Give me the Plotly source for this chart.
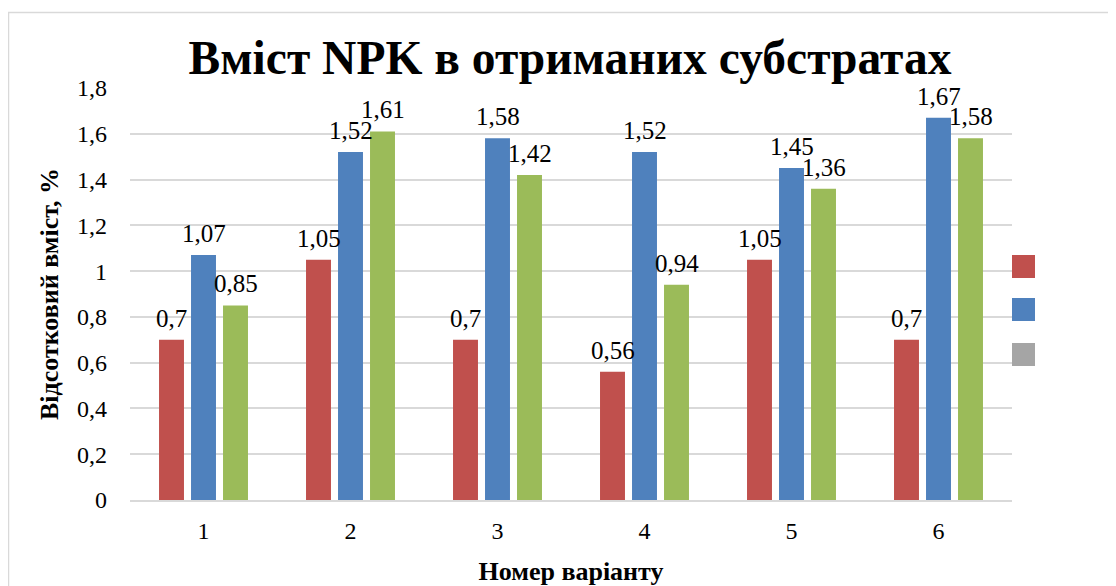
import plotly.graph_objects as go

categories = ["1", "2", "3", "4", "5", "6"]
series_names = ["N", "P", "K"]
red_vals = [0.7, 1.05, 0.7, 0.56, 1.05, 0.7]
blue_vals = [1.07, 1.52, 1.58, 1.52, 1.45, 1.67]
green_vals = [0.85, 1.61, 1.42, 0.94, 1.36, 1.58]
bar_colors = ["#C0504D", "#4F81BD", "#9BBB59"]
legend_colors = ["#C0504D", "#4F81BD", "#A5A5A5"]
y_ticks = [0, 0.2, 0.4, 0.6, 0.8, 1.0, 1.2, 1.4, 1.6, 1.8]

FONT = "Liberation Serif"
OFF = 8  # page body margin offset
W, H = 1116 - OFF, 586 - OFF
ML, MT = 130 - OFF, 88 - OFF
PR, PB = 1012 - OFF, 500 - OFF
MR, MB = W - PR, H - PB
PW, PH = PR - ML, PB - MT

def fmt(v):
    return ("%g" % v).replace(".", ",")

fig = go.Figure()
for name, vals, col in zip(series_names, [red_vals, blue_vals, green_vals], bar_colors):
    fig.add_trace(go.Bar(x=categories, y=vals, name=name, marker_color=col,
                         marker_line_width=0, showlegend=False))

annotations = []
for i, vals in enumerate([red_vals, blue_vals, green_vals]):
    for j, v in enumerate(vals):
        annotations.append(dict(
            x=j, y=v, xref="x", yref="y", text=fmt(v), showarrow=False,
            xanchor="center", yanchor="bottom", yshift=6,
            xshift=(i - 1) * 32,
            font=dict(family=FONT, size=25, color="#000000")))

def px_x(p):
    return (p - OFF - ML) / PW

def px_y(p):
    return (PB - (p - OFF)) / PH

shapes = [dict(type="rect", xref="paper", yref="paper",
               x0=px_x(8.5), x1=px_x(1140), y0=px_y(610), y1=px_y(12.5),
               line=dict(color="#D9D9D9", width=1.5), fillcolor="rgba(0,0,0,0)",
               layer="below")]
leg_tops = [255, 298, 343]
for top, col in zip(leg_tops, legend_colors):
    shapes.append(dict(type="rect", xref="paper", yref="paper",
                       x0=px_x(1012), x1=px_x(1035), y0=px_y(top + 23), y1=px_y(top),
                       line=dict(width=0), fillcolor=col))

fig.update_layout(
    width=W, height=H,
    margin=dict(l=ML, r=MR, t=MT, b=MB, autoexpand=False),
    paper_bgcolor="white", plot_bgcolor="white",
    separators=", ",
    barmode="group", bargap=0.347, bargroupgap=0.22,
    title=dict(text="<b>Вміст NPK в отриманих субстратах</b>",
               x=(570 - OFF) / W, xanchor="center", y=1 - (57 - OFF) / H, yanchor="middle",
               yref="container", xref="container",
               font=dict(family=FONT, size=47.5, color="#000000")),
    font=dict(family=FONT, color="#000000"),
    annotations=annotations,
    shapes=shapes,
    showlegend=False,
)
fig.update_xaxes(
    type="category", showgrid=False, showline=True, linecolor="#D9D9D9", linewidth=1.5,
    ticks="", tickfont=dict(family=FONT, size=24, color="#000000"),
    ticklabelstandoff=8, automargin=False,
    title=dict(text="<b>Номер варіанту</b>", font=dict(family=FONT, size=26, color="#000000"),
               standoff=19),
)
fig.update_yaxes(
    range=[0, 1.8], tickvals=y_ticks, showgrid=True, gridcolor="#D9D9D9", gridwidth=1.5,
    zeroline=False, showline=False, ticks="",
    tickfont=dict(family=FONT, size=24, color="#000000"),
    ticklabelstandoff=22, automargin=False,
    title=dict(text="<b>Відсотковий вміст, %</b>", font=dict(family=FONT, size=26, color="#000000"),
               standoff=10),
)

fig.write_html("out.html")
